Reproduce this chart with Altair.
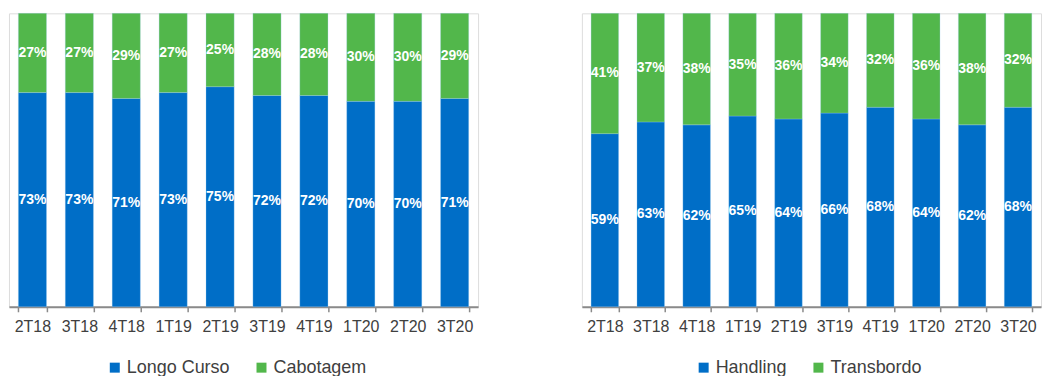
import altair as alt
import pandas as pd

quarters = ["2T18", "3T18", "4T18", "1T19", "2T19", "3T19", "4T19", "1T20", "2T20", "3T20"]
longo_curso = [73, 73, 71, 73, 75, 72, 72, 70, 70, 71]
cabotagem = [27, 27, 29, 27, 25, 28, 28, 30, 30, 29]
handling = [59, 63, 62, 65, 64, 66, 68, 64, 62, 68]
transbordo = [41, 37, 38, 35, 36, 34, 32, 36, 38, 32]

BLUE = "#006EC7"
GREEN = "#52B74B"
FONT = "Liberation Sans"


def make_df(names, series):
    rows = []
    for k, (name, vals) in enumerate(zip(names, series)):
        for q, v in zip(quarters, vals):
            rows.append({"q": q, "serie": name, "v": v, "ord": k})
    return pd.DataFrame(rows)


def panel(names, series, width, legend_x):
    df = make_df(names, series)
    base = alt.Chart(df).transform_stack(
        stack="v", groupby=["q"], as_=["y0", "y1"], sort=[alt.SortField("ord")]
    ).transform_calculate(
        mid="(datum.y0 + datum.y1) / 2",
        lab="datum.v + '%'",
    )
    x = alt.X(
        "q:N",
        sort=quarters,
        title=None,
        scale=alt.Scale(paddingInner=0.4, paddingOuter=0.2),
        axis=alt.Axis(
            labelAngle=0,
            labelFont=FONT,
            labelFontSize=16,
            labelColor="#404040",
            labelPadding=7,
            domainColor="#8a8a8a",
            domainWidth=2,
            tickColor="#8a8a8a",
            tickWidth=1.5,
            tickSize=5,
            tickBand="extent",
            grid=False,
        ),
    )
    yscale = alt.Scale(domain=[0, 100], nice=False)
    bars = base.mark_bar(stroke="#9fd0f0", strokeWidth=0.5, strokeOpacity=0.6).encode(
        x=x,
        y=alt.Y("y0:Q", scale=yscale, axis=None),
        y2="y1:Q",
        color=alt.Color(
            "serie:N",
            sort=names,
            scale=alt.Scale(domain=names, range=[BLUE, GREEN]),
            legend=alt.Legend(
                title=None,
                orient="none",
                legendX=legend_x,
                legendY=346,
                direction="horizontal",
                symbolType="square",
                symbolSize=100,
                symbolStrokeWidth=0,
                labelFont=FONT,
                labelFontSize=18,
                labelColor="#404040",
                labelOffset=3,
                columnPadding=22,
            ),
        ),
    )
    text = base.mark_text(
        font=FONT, fontSize=14, fontWeight="bold", color="white", baseline="middle"
    ).encode(
        x=alt.X("q:N", sort=quarters),
        y=alt.Y("mid:Q", scale=yscale),
        text="lab:N",
    )
    return alt.layer(bars, text).properties(width=width, height=294)


left = panel(["Longo Curso", "Cabotagem"], [longo_curso, cabotagem], 470, 97)
right = panel(["Handling", "Transbordo"], [handling, transbordo], 460, 113)

chart = (
    alt.hconcat(left, right, spacing=102)
    .resolve_scale(color="independent")
    .properties(padding={"left": 8, "top": 12, "right": 0, "bottom": 0})
    .configure_view(stroke=None)
    .configure(background="white")
)

chart.save("out.html", embed_options={"renderer": "svg", "actions": False})
